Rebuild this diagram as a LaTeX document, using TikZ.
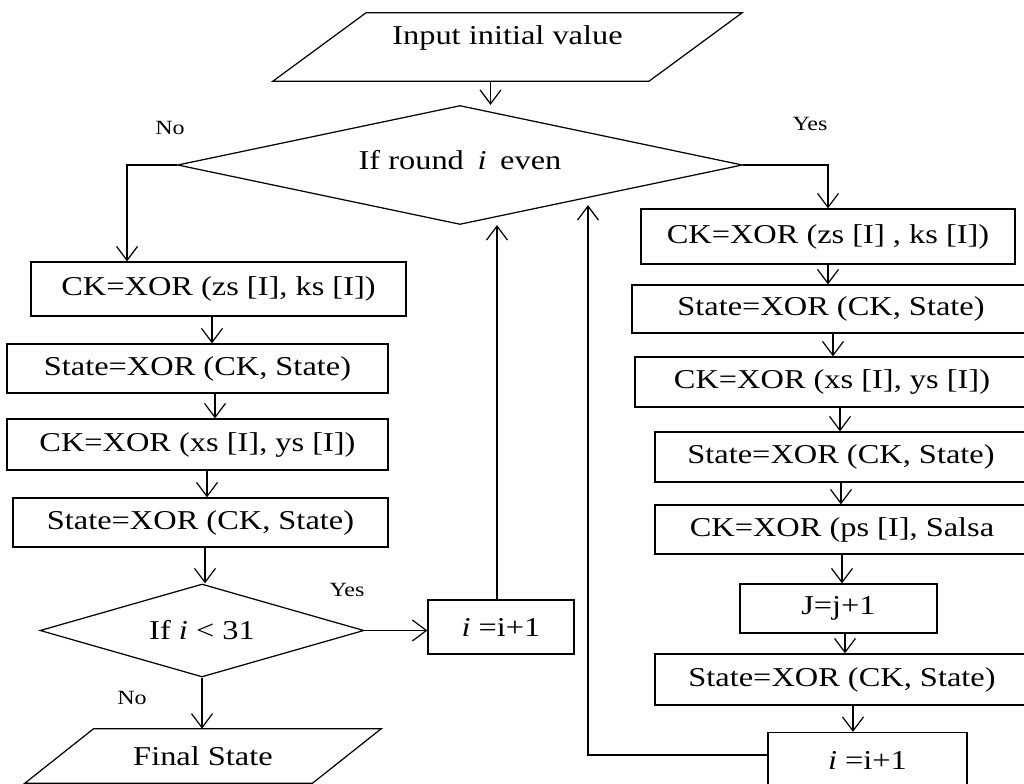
\documentclass[tikz,border=0pt]{standalone}
\usepackage{fontspec}
\setmainfont{Liberation Serif}[FakeStretch=1.19]
\usepackage{tikz}
\usetikzlibrary{arrows.meta, calc, positioning, shapes.geometric}

\begin{document}
\begin{tikzpicture}[
    x=0.02cm, y=-0.02cm,
    font=\fontsize{15.5}{18}\selectfont,
    box/.style={rectangle, draw, line width=0.7pt, inner sep=0pt, align=center},
    io/.style={rectangle, inner sep=0pt, align=center},
    decision/.style={diamond, draw, line width=0.7pt, inner sep=0pt, align=center},
    line/.style={line width=0.7pt},
    arrow/.style={-{Straight Barb[length=0.28cm, width=0.42cm]}, line width=0.7pt},
    lbl/.style={font=\fontsize{11.5}{13}\selectfont}
]
    \useasboundingbox (0,0) rectangle (1024,784);

    % Eingabe und erste Abfrage
    \node[io, minimum width=9.38cm, minimum height=1.36cm, text depth=0.46cm] (in) at (507.5,47) {Input initial value};
    \draw[line] (in.south west) -- ([xshift=-1.87cm]in.south east) -- (in.north east) -- ([xshift=1.87cm]in.north west) -- cycle;
    \node[decision, aspect=4.75, minimum width=11.3cm, minimum height=2.38cm, text depth=0.2cm] (even) at (460,165) {If round\enspace\textit{i}\enspace even};

    % linker Zweig
    \node[box, minimum width=7.5cm, minimum height=1.08cm] (l1) at (218.5,289) {CK=XOR (zs [I], ks [I])};
    \node[box, minimum width=7.62cm, minimum height=0.98cm] (l2) at (197.5,368.5) {State=XOR (CK, State)};
    \node[box, minimum width=7.62cm, minimum height=1.02cm] (l3) at (197.5,444.5) {CK=XOR (xs [I], ys [I])};
    \node[box, minimum width=7.5cm, minimum height=0.98cm] (l4) at (200.5,522.5) {State=XOR (CK, State)};
    \node[decision, aspect=3.5, minimum width=6.48cm, minimum height=1.86cm] (less) at (202,630.5) {If \textit{i} < 31};
    \node[io, minimum width=7.12cm, minimum height=1.08cm] (final) at (203,756) {Final State};
    \draw[line] (final.south west) -- ([xshift=-1.38cm]final.south east) -- (final.north east) -- ([xshift=1.38cm]final.north west) -- cycle;
    \node[box, minimum width=2.92cm, minimum height=1.08cm] (incl) at (501,627) {\textit{i} =i+1};

    % rechter Zweig
    \node[box, minimum width=7.48cm, minimum height=1.1cm] (r1) at (828,236.5) {CK=XOR (zs [I] , ks [I])};
    \node[box, minimum width=7.96cm, minimum height=0.96cm] (r2) at (831,309) {State=XOR (CK, State)};
    \node[box, minimum width=7.88cm, minimum height=1cm] (r3) at (832,382) {CK=XOR (xs [I], ys [I])};
    \node[box, minimum width=7.44cm, minimum height=1cm] (r4) at (841,457) {State=XOR (CK, State)};
    \node[box, minimum width=7.48cm, minimum height=0.98cm] (r5) at (842,529.5) {CK=XOR (ps [I], Salsa};
    \node[box, minimum width=3.94cm, minimum height=0.98cm] (r6) at (838.5,608.5) {J=j+1};
    \node[box, minimum width=7.48cm, minimum height=1.02cm] (r7) at (842,679.5) {State=XOR (CK, State)};
    \node[box, minimum width=3.98cm, minimum height=1.1cm] (r8) at (867.5,760) {\textit{i} =i+1};

    % Beschriftungen
    \node[lbl] (no1) at (170,128) {No};
    \node[lbl] (yes1) at (810,124) {Yes};
    \node[lbl] (yes2) at (347,590) {Yes};
    \node[lbl] (no2) at (132,698) {No};

    % Pfeile
    \draw[arrow] ([xshift=-0.34cm]in.south) -- ([xshift=-0.34cm]in.south |- even.north);
    \draw[arrow] (even.west) -| ([xshift=-1.83cm]l1.north);
    \draw[arrow] (even.east) -| (r1.north);
    \draw[arrow] ([xshift=-0.13cm]l1.south) -- ([xshift=-0.13cm]l1.south |- l2.north);
    \draw[arrow] ([xshift=0.35cm]l2.south) -- ([xshift=0.35cm]l2.south |- l3.north);
    \draw[arrow] ([xshift=0.19cm]l3.south) -- ([xshift=0.19cm]l3.south |- l4.north);
    \draw[arrow] ([xshift=0.09cm]l4.south) -- ([xshift=0.09cm]l4.south |- less.north);
    \draw[arrow] (less.south) -- (less.south |- final.north);
    \draw[arrow] (less.east) -- (less.east -| incl.west);
    \draw[arrow] ([xshift=-0.08cm]incl.north) -- ([xshift=-0.08cm]incl.north |- even.south);
    \draw[arrow] (r1.south) -- (r1.south |- r2.north);
    \draw[arrow] ([xshift=0.04cm]r2.south) -- ([xshift=0.04cm]r2.south |- r3.north);
    \draw[arrow] ([xshift=0.16cm]r3.south) -- ([xshift=0.16cm]r3.south |- r4.north);
    \draw[arrow] (r4.south) -- (r4.south |- r5.north);
    \draw[arrow] (r5.south) -- (r5.south |- r6.north);
    \draw[arrow] ([xshift=0.13cm]r6.south) -- ([xshift=0.13cm]r6.south |- r7.north);
    \draw[arrow] ([xshift=0.22cm]r7.south) -- ([xshift=0.22cm]r7.south |- r8.north);
    \draw[arrow] ([yshift=0.1cm]r8.west) -| ([xshift=2.56cm,yshift=0.4cm]even.south);
\end{tikzpicture}
\end{document}
